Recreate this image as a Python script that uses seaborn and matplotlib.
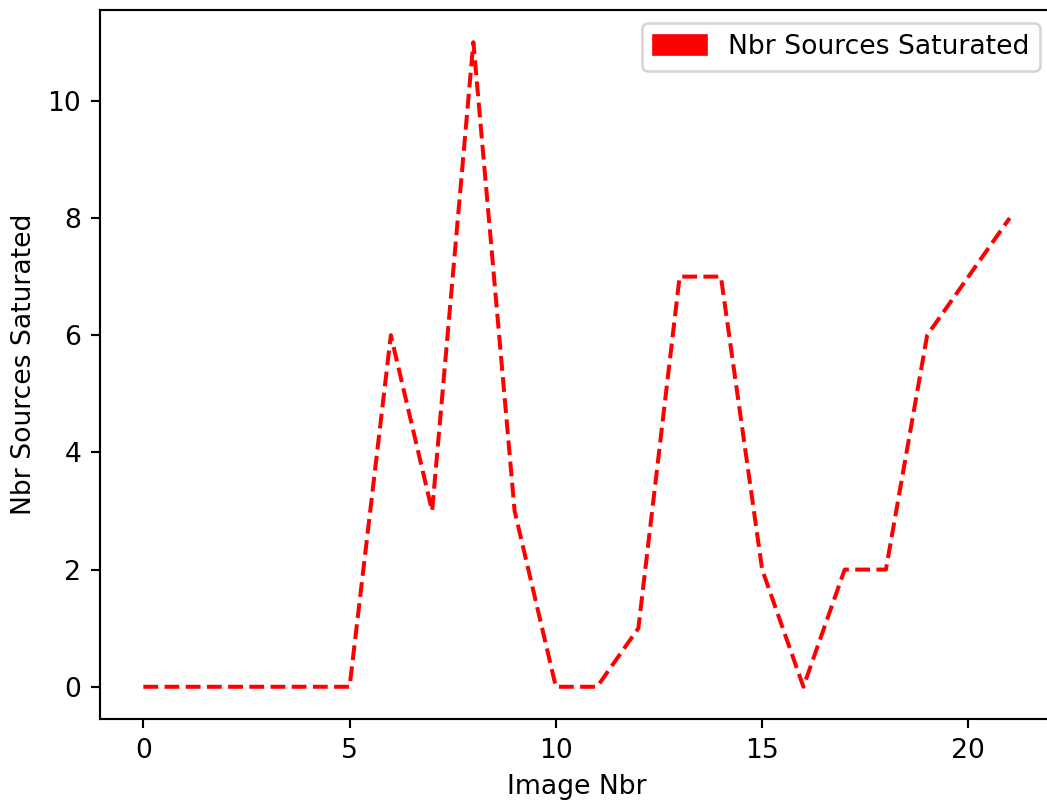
import matplotlib

matplotlib.use("Agg")
import matplotlib.patches as mpatches  # noqa: E402
import matplotlib.pyplot as plt  # noqa: E402
import pandas as pd  # noqa: E402
import seaborn as sns  # noqa: E402

image_nbr = list(range(22))
nbr_saturated = [0, 0, 0, 0, 0, 0, 6, 3, 11, 3, 0, 0, 1, 7, 7, 2, 0, 2, 2, 6, 7, 8]
label = "Nbr Sources Saturated"

df = pd.DataFrame({"image": image_nbr, "saturated": nbr_saturated})

DPI = 192
fig, ax = plt.subplots(figsize=(1047 / DPI, 802 / DPI), dpi=DPI)
# the original is cropped on the right: its right spine falls just outside
fig.subplots_adjust(left=100 / 1047, right=1053 / 1047, top=1 - 10 / 802,
                    bottom=1 - 719 / 802)

sns.lineplot(data=df, x="image", y="saturated", ax=ax, color="red",
             linestyle="--", linewidth=1.5)

ax.set_xlabel("Image Nbr")
ax.set_ylabel(label)
ax.legend(handles=[mpatches.Patch(color="red", label=label)], loc="upper right")

fig.savefig("out.png", dpi=DPI)
